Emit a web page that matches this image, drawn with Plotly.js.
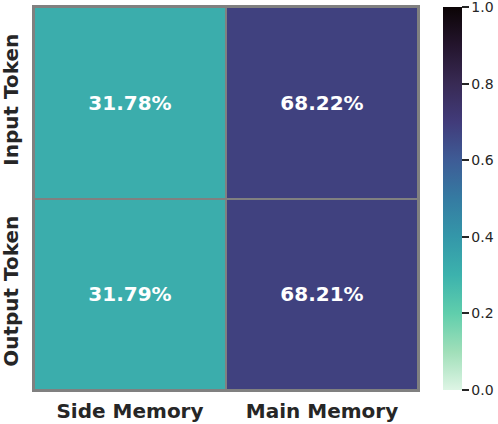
<!DOCTYPE html>
<html>
<head>
<meta charset="utf-8">
<script src="https://cdn.plot.ly/plotly-3.0.1.min.js"></script>
<style>
  body { margin: 0; background: #fff; }
  #plot { width: 498px; height: 424px; }
</style>
</head>
<body>
<div id="plot"></div>
<script>
// Token share per memory location
var memories = ["Side Memory", "Main Memory"];
var tokens = ["Input Token", "Output Token"];
var inputShare = [0.3178, 0.6822];
var outputShare = [0.3179, 0.6821];

// colorbar ticks
var cbTicks = [0, 0.2, 0.4, 0.6, 0.8, 1.0];
var cbLabels = ["0.0", "0.2", "0.4", "0.6", "0.8", "1.0"];

// seaborn mako_r, approximated
var makoR = [
    [0.0, "#DEF5E5"],
    [0.1, "#A0DFB9"],
    [0.2, "#60CEAC"],
    [0.3, "#3CB2AD"],
    [0.4, "#3497A9"],
    [0.5, "#357BA2"],
    [0.6, "#3E5C96"],
    [0.7, "#413B7A"],
    [0.8, "#382A54"],
    [0.9, "#24152D"],
    [1.0, "#0B0405"]
];

var trace = {
    type: "heatmap",
    x: memories,
    y: tokens,
    z: [inputShare, outputShare],
    zmin: 0,
    zmax: 1,
    colorscale: makoR,
    xgap: 2,
    ygap: 2,
    texttemplate: "%{z:.2%}",
    textfont: { family: "DejaVu Sans", size: 20, color: "#ffffff", weight: "bold" },
    hoverinfo: "skip",
    colorbar: {
        x: 1.065,
        xanchor: "left",
        xpad: 0,
        y: 0.5,
        ypad: 10,
        lenmode: "pixels",
        len: 403,
        thickness: 19,
        outlinewidth: 0,
        ticks: "outside",
        ticklen: 7,
        tickwidth: 1.5,
        tickcolor: "#262626",
        tickvals: cbTicks,
        ticktext: cbLabels,
        ticklabeloverflow: "allow",
        tickfont: { family: "DejaVu Sans", size: 14, color: "#262626" }
    }
};

var layout = {
    width: 498,
    height: 424,
    margin: { l: 34, r: 80, t: 7, b: 34, autoexpand: false },
    paper_bgcolor: "#ffffff",
    plot_bgcolor: "#808080",
    xaxis: {
        showgrid: false,
        zeroline: false,
        showline: true,
        mirror: true,
        linecolor: "#808080",
        linewidth: 2,
        ticks: "outside",
        ticklen: 2,
        tickcolor: "rgba(0,0,0,0)",
        tickfont: { family: "DejaVu Sans", size: 20, color: "#262626", weight: "bold" }
    },
    yaxis: {
        autorange: "reversed",
        showgrid: false,
        zeroline: false,
        showline: true,
        mirror: true,
        linecolor: "#808080",
        linewidth: 2,
        ticks: "outside",
        ticklen: 6,
        tickcolor: "rgba(0,0,0,0)",
        tickangle: -90,
        tickfont: { family: "DejaVu Sans", size: 20, color: "#262626", weight: "bold" }
    }
};

Plotly.newPlot("plot", [trace], layout, { displayModeBar: false });
</script>
</body>
</html>
